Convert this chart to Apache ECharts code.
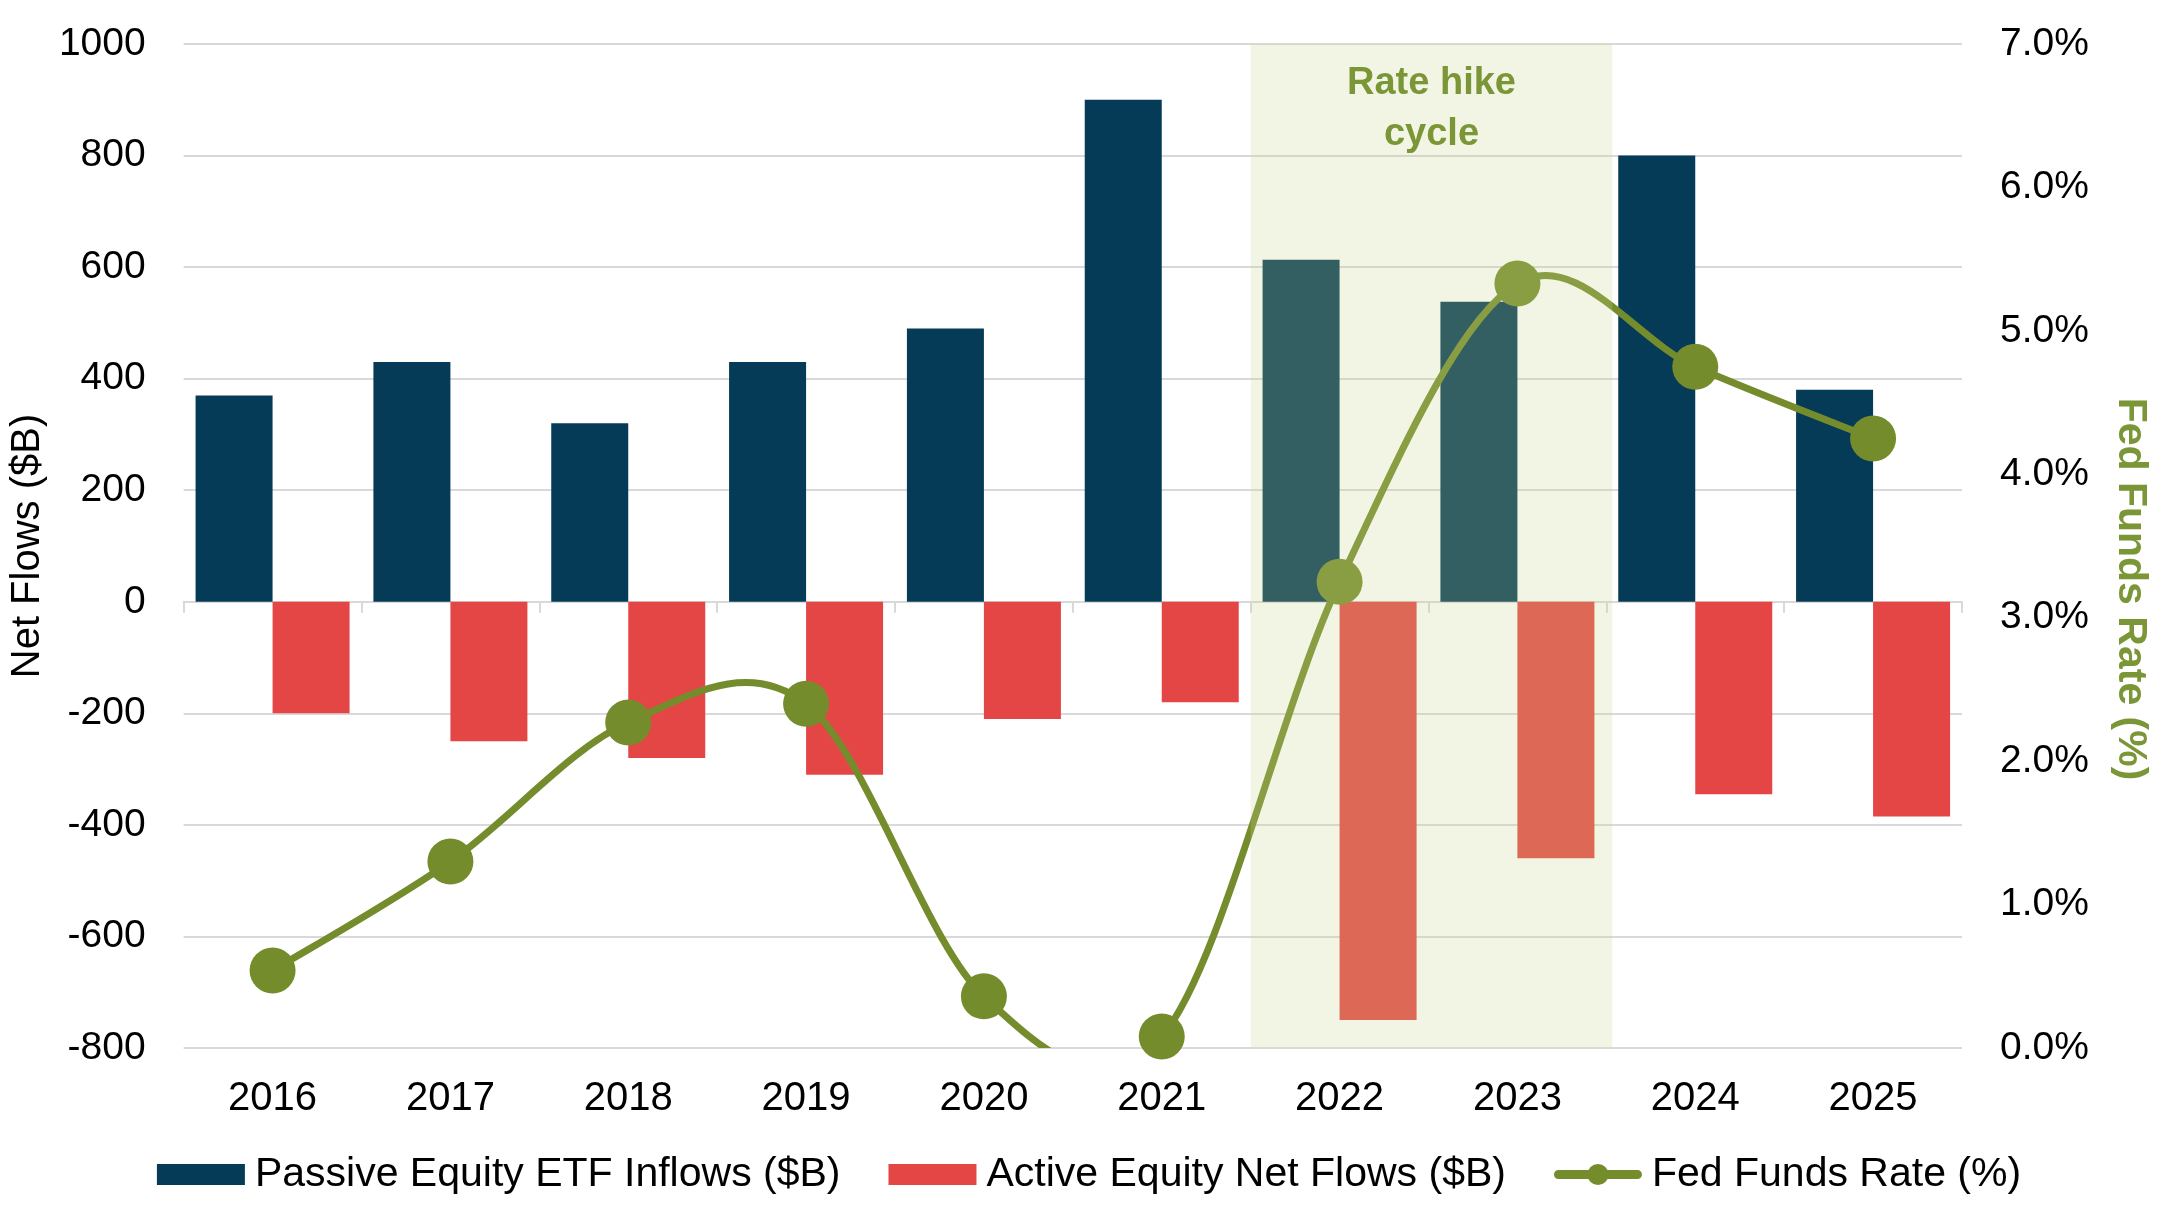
<!DOCTYPE html>
<html>
<head>
<meta charset="utf-8">
<style>
  html, body { margin: 0; padding: 0; background: #ffffff; }
  #chart { width: 2178px; height: 1210px; }
</style>
<script src="https://cdn.jsdelivr.net/npm/echarts@6/dist/echarts.min.js"></script>
</head>
<body>
<div id="chart"></div>
<script>
// ---- data ----
const categories = ['2016', '2017', '2018', '2019', '2020', '2021', '2022', '2023', '2024', '2025'];
const passiveInflows = [370, 430, 320, 430, 490, 900, 613, 538, 800, 380];
const activeFlows = [-200, -250, -280, -310, -210, -180, -750, -460, -345, -385];
const fedFundsRate = [0.54, 1.30, 2.27, 2.40, 0.36, 0.08, 3.25, 5.33, 4.75, 4.25];
const seriesNames = ['Passive Equity ETF Inflows ($B)', 'Active Equity Net Flows ($B)', 'Fed Funds Rate (%)'];
const leftAxisName = 'Net Flows ($B)';
const rightAxisName = 'Fed Funds Rate (%)';
const shadeStart = '2022';
const shadeEnd = '2023';
const shadeLabel = 'Rate hike\ncycle';

const FONT = '"Liberation Sans", Arial, sans-serif';
const GREEN = '#758c2d';
const TITLE_GREEN = '#7a9636';

const chart = echarts.init(document.getElementById('chart'), null, { renderer: 'canvas' });

const linePathIcon = 'path://M4.5,6 L83.5,6 A4.5,4.5 0 0 1 83.5,15 L4.5,15 A4.5,4.5 0 0 1 4.5,6 Z M44,0 A10.5,10.5 0 1 1 43.99,0 Z';

// smoothed (Catmull-Rom style) line through the rate points, drawn via the axes' scales
function renderSmoothSegment(params, api) {
  const i = params.dataIndexInside;
  const n = params.dataInsideLength;
  if (i >= n - 1) return;
  const P = function (k) { return api.coord([api.value(0, k), api.value(1, k)]); };
  const p0 = P(Math.max(i - 1, 0));
  const p1 = P(i);
  const p2 = P(i + 1);
  const p3 = P(Math.min(i + 2, n - 1));
  const t = 1 / 6;
  return {
    type: 'bezierCurve',
    shape: {
      x1: p1[0], y1: p1[1],
      x2: p2[0], y2: p2[1],
      cpx1: p1[0] + (p2[0] - p0[0]) * t,
      cpy1: p1[1] + (p2[1] - p0[1]) * t,
      cpx2: p2[0] - (p3[0] - p1[0]) * t,
      cpy2: p2[1] - (p3[1] - p1[1]) * t
    },
    style: { stroke: GREEN, lineWidth: 7, fill: null, lineCap: 'round' }
  };
}

const option = {
  animation: false,
  backgroundColor: '#ffffff',
  textStyle: { fontFamily: FONT },
  grid: { left: 183, right: 216, top: 44, bottom: 162, containLabel: false },
  legend: {
    top: 1149,
    left: 'center',
    itemWidth: 88,
    itemHeight: 21,
    itemGap: 48,
    textStyle: { fontSize: 41, color: '#000000', fontFamily: FONT, padding: [0, 0, 0, 5] },
    data: [
      { name: seriesNames[0], icon: 'rect' },
      { name: seriesNames[1], icon: 'rect' },
      { name: seriesNames[2], icon: linePathIcon, itemStyle: { color: GREEN, opacity: 1, borderWidth: 0 } }
    ]
  },
  graphic: [
    {
      type: 'text',
      x: 2130,
      y: 589,
      rotation: -Math.PI / 2,
      style: {
        text: rightAxisName,
        fontSize: 41,
        fontWeight: 'bold',
        fontFamily: FONT,
        fill: TITLE_GREEN,
        align: 'center',
        verticalAlign: 'middle'
      },
      silent: true
    }
  ],
  xAxis: [
    {
      type: 'category',
      data: categories,
      position: 'bottom',
      boundaryGap: true,
      axisLine: { show: false, onZero: false },
      axisTick: { show: false },
      splitLine: { show: false },
      axisLabel: { fontSize: 40, color: '#000000', margin: 31, fontFamily: FONT }
    },
    {
      type: 'category',
      data: categories,
      position: 'top',
      boundaryGap: true,
      axisLine: { show: true, onZero: true, onZeroAxisIndex: 0, lineStyle: { color: '#d9d9d9', width: 2 } },
      axisTick: { show: true, inside: true, length: 11, lineStyle: { color: '#d9d9d9', width: 2 } },
      axisLabel: { show: false },
      splitLine: { show: false }
    }
  ],
  yAxis: [
    {
      type: 'value',
      min: -800,
      max: 1000,
      interval: 200,
      name: leftAxisName,
      nameLocation: 'middle',
      nameGap: 132,
      nameTextStyle: { fontSize: 40, color: '#000000', fontFamily: FONT },
      axisLine: { show: false },
      axisTick: { show: false },
      splitLine: { show: true, lineStyle: { color: '#d9d9d9', width: 2 } },
      axisLabel: { fontSize: 39, color: '#000000', margin: 38, fontFamily: FONT, formatter: function (v) { return String(v); } }
    },
    {
      type: 'value',
      min: 0,
      max: 7,
      interval: 1,
      position: 'right',
      axisLine: { show: false },
      axisTick: { show: false },
      splitLine: { show: false },
      axisLabel: { fontSize: 39, color: '#000000', margin: 38, fontFamily: FONT, formatter: function (v) { return v.toFixed(1) + '%'; } }
    }
  ],
  series: [
    {
      name: seriesNames[0],
      type: 'bar',
      xAxisIndex: 0,
      yAxisIndex: 0,
      data: passiveInflows,
      barGap: '0%',
      barCategoryGap: '13.4%',
      itemStyle: { color: '#053b57' },
      z: 2
    },
    {
      name: seriesNames[1],
      type: 'bar',
      xAxisIndex: 0,
      yAxisIndex: 0,
      data: activeFlows,
      barGap: '0%',
      barCategoryGap: '13.4%',
      itemStyle: { color: '#e44646' },
      z: 2
    },
    {
      name: 'rateCurve',
      type: 'custom',
      xAxisIndex: 0,
      yAxisIndex: 1,
      clip: true,
      silent: true,
      z: 3,
      data: fedFundsRate.map(function (v, i) { return [i, v]; }),
      encode: { x: 0, y: 1 },
      renderItem: renderSmoothSegment
    },
    {
      name: seriesNames[2],
      type: 'line',
      xAxisIndex: 0,
      yAxisIndex: 1,
      data: fedFundsRate,
      symbol: 'circle',
      symbolSize: 46,
      lineStyle: { color: GREEN, width: 0 },
      itemStyle: { color: GREEN, borderWidth: 0 },
      z: 4
    },
    {
      name: 'shade',
      type: 'custom',
      xAxisIndex: 0,
      yAxisIndex: 0,
      z: 10,
      silent: true,
      data: [[categories.indexOf(shadeStart), categories.indexOf(shadeEnd)]],
      encode: { x: 0 },
      renderItem: function (params, api) {
        const c0 = api.coord([api.value(0), 0]);
        const c1 = api.coord([api.value(1), 0]);
        const band = api.size([1, 0])[0];
        const cs = params.coordSys;
        const x0 = c0[0] - band / 2;
        const x1 = c1[0] + band / 2 + 6;
        return {
          type: 'group',
          children: [
            {
              type: 'rect',
              shape: { x: x0, y: cs.y, width: x1 - x0, height: cs.height - 1 },
              style: { fill: 'rgba(200,214,140,0.24)' }
            },
            {
              type: 'text',
              style: {
                text: shadeLabel,
                x: (x0 + x1) / 2,
                y: cs.y + 65,
                align: 'center',
                verticalAlign: 'middle',
                fontSize: 38,
                fontWeight: 'bold',
                fontFamily: FONT,
                lineHeight: 51,
                fill: TITLE_GREEN
              }
            }
          ]
        };
      }
    }
  ]
};

chart.setOption(option);
</script>
</body>
</html>
